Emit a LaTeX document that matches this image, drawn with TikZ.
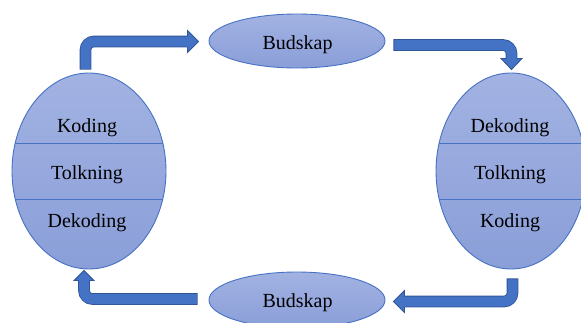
\documentclass[tikz,border=0pt]{standalone}
\usepackage{fontspec}
\setmainfont{Liberation Serif}
\usetikzlibrary{shapes.geometric,calc}
\definecolor{efill}{RGB}{162,178,226}
\definecolor{efillb}{RGB}{138,158,216}
\definecolor{eedge}{RGB}{70,114,196}
\definecolor{afill}{RGB}{68,114,196}
\definecolor{aedge}{RGB}{47,85,151}
\begin{document}
\begin{tikzpicture}[x=1pt,y=-1pt,
  oval/.style={ellipse, draw=eedge, line width=0.9pt, top color=efill, bottom color=efillb, inner sep=0pt},
  lbl/.style={font=\fontsize{20}{24}\selectfont, text=black, inner sep=0pt, anchor=base},
  divider/.style={draw=eedge, line width=0.9pt},
  shaftout/.style={draw=aedge, line width=11.6pt, rounded corners=8.5pt},
  shaftin/.style={draw=afill, line width=10pt, rounded corners=8.5pt, shorten <=0.8pt, shorten >=-1pt},
  head/.style={fill=afill, draw=aedge, line width=0.8pt, line join=miter}]
\useasboundingbox (0,0) rectangle (581,322);
% ovals
\node[oval, minimum width=154pt, minimum height=196pt] (L) at (89,171) {};
\node[oval, minimum width=150pt, minimum height=196pt] (R) at (511,171) {};
\node[oval, minimum width=176pt, minimum height=54pt] (B1) at (297,41) {};
\node[oval, minimum width=176pt, minimum height=56pt] (B2) at (297,300) {};
% dividers
\begin{scope}
  \clip (L.center) ellipse [x radius=77, y radius=98];
  \draw[divider] (0,143) -- (180,143);
  \draw[divider] (0,199) -- (180,199);
\end{scope}
\begin{scope}
  \clip (R.center) ellipse [x radius=75, y radius=98];
  \draw[divider] (420,143) -- (600,143);
  \draw[divider] (420,199) -- (600,199);
\end{scope}
% labels
\node[lbl] (Lk) at (87,132) {Koding};
\node[lbl] (Lt) at (87,179) {Tolkning};
\node[lbl] (Ld) at (87,227) {Dekoding};
\node[lbl] (Rd) at (510,132) {Dekoding};
\node[lbl] (Rt) at (510,179) {Tolkning};
\node[lbl] (Rk) at (510,227) {Koding};
\node[lbl] (B1t) at (297.5,49) {Budskap};
\node[lbl] (B2t) at (297.5,307) {Budskap};
% arrow end points
\coordinate (s1) at ($(L.north)+(-3.5,-3)$);
\coordinate (t1) at ($(B1.west)+(-10,0.5)$);
\coordinate (e1) at ($(t1)+(-11,0)$);
\coordinate (s2) at ($(B1.east)+(8,4)$);
\coordinate (t2) at ($(R.north)+(0.5,-3)$);
\coordinate (e2) at ($(t2)+(0,-11)$);
\coordinate (s3) at ($(R.south)+(1.5,9)$);
\coordinate (t3) at ($(B2.east)+(8,1.5)$);
\coordinate (e3) at ($(t3)+(11,0)$);
\coordinate (s4) at ($(B2.west)+(-11,-1)$);
\coordinate (t4) at ($(L.south)+(-5,1)$);
\coordinate (e4) at ($(t4)+(0,10)$);
% arrow 1
\draw[shaftout] (s1) |- (e1);
\draw[head] ($(e1)+(0,-11)$) -- (t1) -- ($(e1)+(0,11)$) -- cycle;
\draw[shaftin] (s1) |- (e1);
% arrow 2
\draw[shaftout] (s2) -| (e2);
\draw[head] ($(e2)+(-10.5,0)$) -- (t2) -- ($(e2)+(10.5,0)$) -- cycle;
\draw[shaftin] (s2) -| (e2);
% arrow 3
\draw[shaftout] (s3) |- (e3);
\draw[head] ($(e3)+(0,-11)$) -- (t3) -- ($(e3)+(0,11)$) -- cycle;
\draw[shaftin] (s3) |- (e3);
% arrow 4
\draw[shaftout] (s4) -| (e4);
\draw[head] ($(e4)+(-10,0)$) -- (t4) -- ($(e4)+(10,0)$) -- cycle;
\draw[shaftin] (s4) -| (e4);
\end{tikzpicture}
\end{document}
